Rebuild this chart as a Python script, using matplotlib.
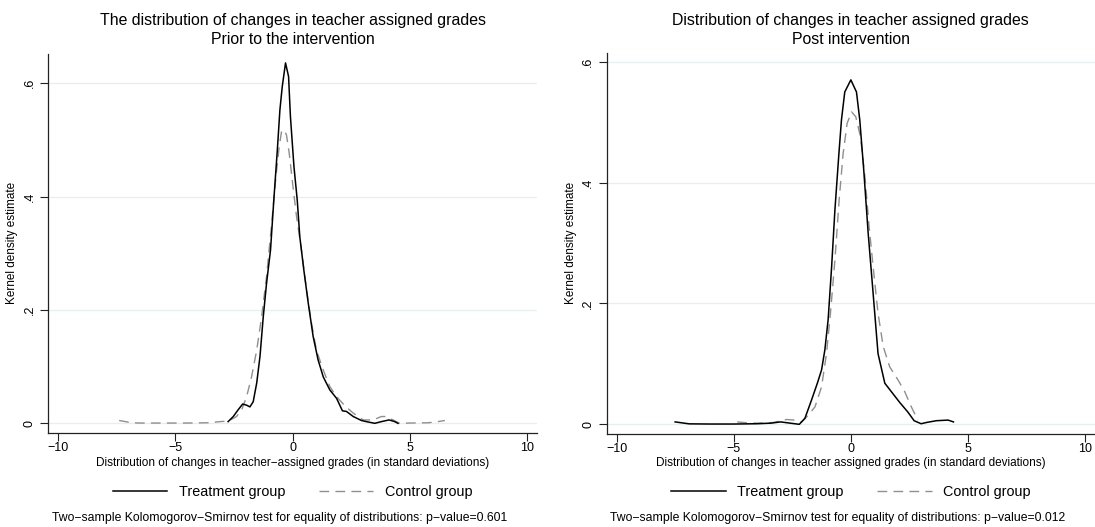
import numpy as np
import matplotlib
matplotlib.use("Agg")
from matplotlib import pyplot as plt
from matplotlib.lines import Line2D

plt.rcParams['font.family'] = ['Liberation Sans', 'DejaVu Sans']

# kernel density estimates
# prior to the intervention
pre_treat_x = [-2.75, -2.53, -2.32, -2.13, -1.96, -1.82, -1.68, -1.53, -1.39, -1.25, -1.11, -0.94, -0.80,
               -0.65, -0.54, -0.44, -0.30, -0.17, -0.09, 0.06, 0.20, 0.31, 0.48, 0.67, 0.88, 1.09, 1.31,
               1.59, 1.88, 2.13, 2.30, 2.59, 2.94, 3.15, 3.51, 3.79, 4.12, 4.36, 4.50]
pre_treat_y = [0.003, 0.012, 0.024, 0.034, 0.032, 0.029, 0.038, 0.071, 0.118, 0.188, 0.247, 0.306, 0.394,
               0.482, 0.553, 0.594, 0.636, 0.612, 0.541, 0.453, 0.394, 0.329, 0.271, 0.212, 0.153, 0.112, 0.082,
               0.059, 0.044, 0.022, 0.021, 0.012, 0.005, 0.003, 0.0, 0.003, 0.006, 0.003, 0.0]
pre_ctrl_x = [-7.4, -7.0, -6.6, -5.5, -4.5, -3.6, -3.1, -2.74, -2.39, -2.17, -1.96, -1.75, -1.53, -1.32,
              -1.11, -0.89, -0.71, -0.57, -0.47, -0.37, -0.26, -0.14, 0.0, 0.17, 0.38, 0.60, 0.81, 1.02,
              1.31, 1.59, 1.88, 2.23, 2.59, 3.01, 3.44, 3.79, 4.0, 4.29, 4.57, 5.0, 5.8, 6.2, 6.5]
pre_ctrl_y = [0.005, 0.002, 0.0005, 0.0005, 0.0005, 0.001, 0.003, 0.004, 0.012, 0.024, 0.047, 0.082, 0.129, 0.188,
              0.259, 0.353, 0.435, 0.488, 0.515, 0.518, 0.509, 0.476, 0.424, 0.365, 0.306, 0.235, 0.176, 0.129,
              0.094, 0.065, 0.047, 0.031, 0.018, 0.006, 0.006, 0.012, 0.012, 0.006, 0.0, 0.0005, 0.001, 0.003, 0.005]

# post intervention
post_treat_x = [-7.5, -6.9, -6.0, -5.0, -4.0, -3.4, -3.0, -2.6, -2.2, -1.96, -1.68, -1.43, -1.25, -1.11,
                -0.97, -0.82, -0.68, -0.51, -0.40, -0.26, 0.0, 0.24, 0.38, 0.55, 0.74, 0.95, 1.16, 1.45,
                1.77, 2.09, 2.44, 2.70, 3.0, 3.22, 3.65, 4.15, 4.38]
post_treat_y = [0.004, 0.0008, 0.0005, 0.0005, 0.001, 0.002, 0.004, 0.002, 0.0, 0.010, 0.040, 0.068, 0.090, 0.123,
                0.173, 0.261, 0.355, 0.448, 0.504, 0.550, 0.570, 0.550, 0.504, 0.421, 0.316, 0.217, 0.117, 0.068,
                0.052, 0.036, 0.020, 0.006, 0.001, 0.003, 0.006, 0.007, 0.004]
post_ctrl_x = [-4.85, -4.3, -3.88, -3.31, -2.74, -2.39, -2.1, -1.82, -1.53, -1.25, -1.04, -0.87, -0.68, -0.50,
               -0.33, -0.16, 0.03, 0.21, 0.41, 0.60, 0.78, 0.95, 1.16, 1.38, 1.66, 2.02, 2.30, 2.58, 2.86]
post_ctrl_y = [0.004, 0.002, 0.002, 0.003, 0.008, 0.007, 0.004, 0.015, 0.029, 0.062, 0.117, 0.184, 0.272, 0.371,
               0.448, 0.498, 0.517, 0.509, 0.476, 0.41, 0.327, 0.261, 0.184, 0.129, 0.095, 0.073, 0.054, 0.029, 0.007]

yticks = [0, 0.2, 0.4, 0.6]
ytick_labels = ['0', '.2', '.4', '.6']
xticks = [-10, -5, 0, 5, 10]

titles = [("The distribution of changes in teacher assigned grades", "Prior to the intervention"),
          ("Distribution of changes in teacher assigned grades", "Post intervention")]
xlabels = ["Distribution of changes in teacher\u2212assigned grades (in standard deviations)",
           "Distribution of changes in teacher assigned grades (in standard deviations)"]
notes = ["Two\u2212sample Kolomogorov\u2212Smirnov test for equality of distributions: p\u2212value=0.601",
         "Two\u2212sample Kolomogorov\u2212Smirnov test for equality of distributions: p\u2212value=0.012"]

W, H = 1095, 527
def fx(px):
    return px / W
def fy(py):
    return 1 - py / H

fig = plt.figure(figsize=(W / 100, H / 100), dpi=100)

# plot regions in pixels: left, top, right, bottom
boxes = [(48.4, 53.5, 536.7, 433.3), (606.7, 52.7, 1095, 434.0)]
ylims = [(-0.0176, 0.6526), (-0.016, 0.615)]
series = [(pre_treat_x, pre_treat_y, pre_ctrl_x, pre_ctrl_y),
          (post_treat_x, post_treat_y, post_ctrl_x, post_ctrl_y)]

grey = '#8f8f8f'
dash = (7, 4.5)
for i in range(2):
    l, t, r, b = boxes[i]
    ax = fig.add_axes([fx(l), fy(b), (r - l) / W, (b - t) / H])
    tx, ty, cx, cy = series[i]
    for yv in yticks:
        ax.axhline(yv, color='#e6eef0', lw=0.9, zorder=0)
    ax.plot(tx, ty, color='black', lw=1.1, label='Treatment group', zorder=3)
    ax.plot(cx, cy, color=grey, lw=1.0, dashes=dash, label='Control group', zorder=2)
    ax.set_xlim(-10.42, 10.42)
    ax.set_ylim(*ylims[i])
    ax.set_xticks(xticks)
    ax.set_yticks(yticks)
    ax.set_yticklabels(ytick_labels, rotation=90, va='center')
    ax.tick_params(axis='both', length=6, width=0.8, labelsize=9, color='#222222')
    ax.tick_params(axis='y', pad=3)
    ax.tick_params(axis='x', pad=0.5)
    for s in ['top', 'right']:
        ax.spines[s].set_visible(False)
    for s in ['left', 'bottom']:
        ax.spines[s].set_linewidth(0.9)
        ax.spines[s].set_color('#222222')

    cx_mid = (l + r) / 2
    fig.text(fx(cx_mid), fy(20), titles[i][0], ha='center', va='center', fontsize=11.4)
    fig.text(fx(cx_mid), fy(40), titles[i][1], ha='center', va='center', fontsize=11.4)
    fig.text(fx(cx_mid), fy(463), xlabels[i], ha='center', va='center', fontsize=8.5)
    fig.text(fx(l - 36), fy((t + b) / 2), "Kernel density estimate", rotation=90,
             ha='center', va='center', fontsize=8.5)
    fig.text(fx(l + 3.5), fy(518), notes[i], ha='left', va='center', fontsize=8.8)

    handles = [Line2D([], [], color='black', lw=1.1),
               Line2D([], [], color=grey, lw=1.0, dashes=dash)]
    fig.legend(handles, ['Treatment group', 'Control group'], loc='center',
               bbox_to_anchor=(fx(cx_mid), fy(492)), ncol=2, frameon=False,
               fontsize=10.4, handlelength=3.8, handletextpad=0.8, columnspacing=2.3)

plt.savefig('out.png', dpi=100)
